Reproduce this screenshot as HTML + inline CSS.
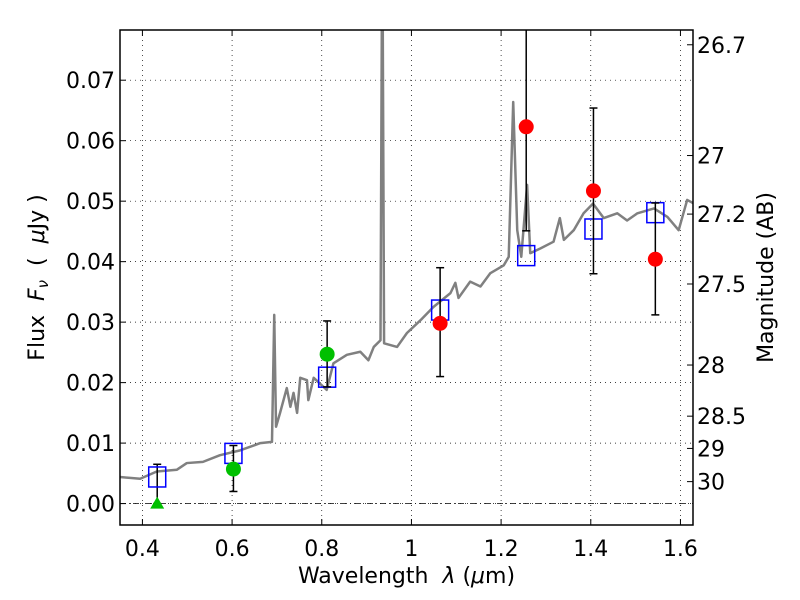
<!DOCTYPE html>
<html><head><meta charset="utf-8">
<style>
body{margin:0;background:#fff;}
svg{display:block;font-family:"DejaVu Sans","Liberation Sans",sans-serif;}
text{white-space:pre;}
</style></head>
<body>
<svg id="chart" width="800" height="600" viewBox="0 0 800 600" xmlns="http://www.w3.org/2000/svg"></svg>
<script>
const xTicks=[0.4,0.6,0.8,1.0,1.2,1.4,1.6];
const xTickLabels=["0.4","0.6","0.8","1","1.2","1.4","1.6"];
const yTicks=[0,0.01,0.02,0.03,0.04,0.05,0.06,0.07];
const yTickLabels=["0.00","0.01","0.02","0.03","0.04","0.05","0.06","0.07"];
const magTicks=[26.7,27,27.2,27.5,28,28.5,29,30];
const magTickLabels=["26.7","27","27.2","27.5","28","28.5","29","30"];
const specWave=[0.350,0.395,0.432,0.477,0.499,0.535,0.573,0.618,0.663,0.689,0.694,0.698,0.707,0.722,0.730,0.737,0.745,0.752,0.767,0.770,0.782,0.811,0.826,0.856,0.886,0.904,0.916,0.931,0.934,0.936,0.939,0.968,0.990,1.020,1.049,1.087,1.098,1.105,1.131,1.154,1.176,1.206,1.217,1.227,1.236,1.245,1.258,1.265,1.288,1.317,1.331,1.340,1.362,1.384,1.405,1.429,1.459,1.481,1.504,1.541,1.571,1.596,1.615,1.630];
const specFlux=[0.0044,0.0041,0.0053,0.0056,0.0067,0.0069,0.0080,0.0088,0.0100,0.0102,0.0312,0.0127,0.0150,0.0191,0.0160,0.0183,0.0150,0.0208,0.0204,0.0171,0.0208,0.0188,0.0232,0.0246,0.0251,0.0237,0.0259,0.0270,0.0800,0.0800,0.0265,0.0259,0.0282,0.0303,0.0325,0.0348,0.0365,0.0340,0.0367,0.0359,0.0381,0.0394,0.0408,0.0664,0.0452,0.0408,0.0527,0.0414,0.0422,0.0433,0.0472,0.0436,0.0452,0.0480,0.0496,0.0472,0.0480,0.0468,0.0480,0.0488,0.0474,0.0452,0.0502,0.0496];
const sqWave=[0.433,0.603,0.812,1.064,1.256,1.406,1.544];
const sqFlux=[0.0044,0.0083,0.0209,0.0320,0.0410,0.0454,0.0481];
const greenWave=[0.603,0.812];
const greenFlux=[0.0057,0.0247];
const greenLo=[0.0020,0.0193];
const greenHi=[0.0096,0.0302];
const triWave=[0.433];
const triFlux=[0.0];
const triLo=[0.0];
const triHi=[0.0065];
const redWave=[1.064,1.256,1.406,1.544];
const redFlux=[0.0298,0.0623,0.0517,0.0404];
const redLo=[0.0210,0.0451,0.0380,0.0312];
const redHi=[0.0390,0.0850,0.0654,0.0497];

const L=120,R=693,T=30,B=525;
const xmin=0.35,xmax=1.628,ymin=-0.00354,ymax=0.0783;
const X=v=>L+(v-xmin)/(xmax-xmin)*(R-L);
const Y=v=>B-(v-ymin)/(ymax-ymin)*(B-T);
const magY=m=>Y(Math.pow(10,(23.9-m)/2.5));
const svg=document.getElementById('chart');
const NS='http://www.w3.org/2000/svg';
function mk(tag,attrs,parent){const e=document.createElementNS(NS,tag);for(const k in attrs)e.setAttribute(k,attrs[k]);(parent||svg).appendChild(e);return e;}
const defs=mk('defs',{});const cp=mk('clipPath',{id:'clip'},defs);mk('rect',{x:L,y:T,width:R-L,height:B-T},cp);

xTicks.forEach((v,i)=>{
 const g=mk('line',{x1:X(v),x2:X(v),y1:T,y2:B,stroke:'#000','stroke-width':0.7,'stroke-dasharray':'1,4'});
 
 mk('line',{x1:X(v),x2:X(v),y1:B,y2:B-6,stroke:'#000'});mk('line',{x1:X(v),x2:X(v),y1:T,y2:T+6,stroke:'#000'});
 const t=mk('text',{x:X(v),y:B+31,'text-anchor':'middle','font-size':22});t.textContent=xTickLabels[i];
 
});
yTicks.forEach((v,i)=>{
 const g=mk('line',{x1:L,x2:R,y1:Y(v),y2:Y(v),stroke:'#000','stroke-width':0.7,'stroke-dasharray':'1,4'});
 
 mk('line',{x1:L,x2:L+6,y1:Y(v),y2:Y(v),stroke:'#000'});
 const t=mk('text',{x:L-5,y:Y(v)+8,'text-anchor':'end','font-size':22});t.textContent=yTickLabels[i];
 
});
const zl=mk('line',{x1:L,x2:R,y1:Y(0),y2:Y(0),stroke:'#000','stroke-width':0.8,'stroke-dasharray':'6,3,1,3'});

magTicks.forEach((m,i)=>{
 mk('line',{x1:R,x2:R-6,y1:magY(m),y2:magY(m),stroke:'#000'});
 const t=mk('text',{x:R+4,y:magY(m)+8,'font-size':22});t.textContent=magTickLabels[i];
 
});

const pg=mk('g',{'clip-path':'url(#clip)'});
const sp=mk('polyline',{points:specWave.map((w,i)=>X(w)+','+Y(specFlux[i])).join(' '),fill:'none',stroke:'#808080','stroke-width':2.5,'stroke-linejoin':'round'},pg);

function err(w,lo,hi){mk('line',{x1:X(w),x2:X(w),y1:Y(lo),y2:Y(hi),stroke:'#000','stroke-width':1.5},pg);
 [lo,hi].forEach(v=>mk('line',{x1:X(w)-4,x2:X(w)+4,y1:Y(v),y2:Y(v),stroke:'#000','stroke-width':1.5},pg));}
triWave.forEach((w,i)=>err(w,triLo[i],triHi[i]));
sqWave.forEach((w,i)=>{const r=mk('rect',{x:X(w)-8.5,y:Y(sqFlux[i])-10,width:17,height:20,fill:'none',stroke:'#0000ff','stroke-width':1.5},pg);
 });
greenWave.forEach((w,i)=>{err(w,greenLo[i],greenHi[i]);const c=mk('circle',{cx:X(w),cy:Y(greenFlux[i]),r:7.5,fill:'#00c000'},pg);
 });
triWave.forEach((w,i)=>{const x=X(w),y=Y(triFlux[i]);const p=mk('polygon',{points:`${x},${y-7} ${x-7},${y+5} ${x+7},${y+5}`,fill:'#00c000'},pg);
 });
redWave.forEach((w,i)=>{err(w,redLo[i],redHi[i]);const c=mk('circle',{cx:X(w),cy:Y(redFlux[i]),r:7.5,fill:'#ff0000'},pg);
 });

const fr=mk('rect',{x:L,y:T,width:R-L,height:B-T,fill:'none',stroke:'#000','stroke-width':1.5});

const xl=mk('text',{x:(L+R)/2,y:583,'text-anchor':'middle','font-size':22});
xl.innerHTML='Wavelength  <tspan font-style="italic">λ</tspan> (<tspan font-style="italic">μ</tspan>m)';

const yl=mk('text',{x:0,y:0,'text-anchor':'middle','font-size':22,transform:`translate(44,${(T+B)/2}) rotate(-90)`});
yl.innerHTML='Flux  <tspan font-style="italic">F</tspan><tspan font-style="italic" font-size="15" dy="4">ν</tspan><tspan dy="-4">  (  </tspan><tspan font-style="italic">μ</tspan>Jy )';

const ml=mk('text',{x:0,y:0,'text-anchor':'middle','font-size':22,transform:`translate(773,${(T+B)/2}) rotate(-90)`});
ml.textContent='Magnitude (AB)';

</script>
</body></html>
